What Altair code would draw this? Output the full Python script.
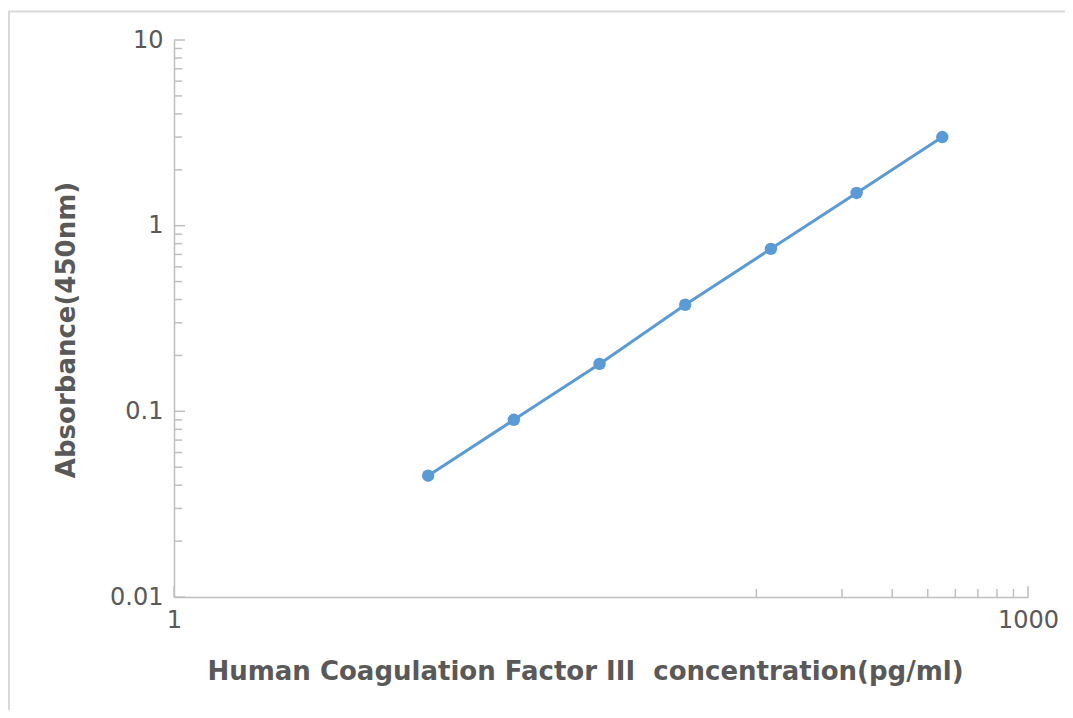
import altair as alt
import pandas as pd

# data
concentration = [7.8125, 15.625, 31.25, 62.5, 125, 250, 500]
absorbance = [0.045, 0.09, 0.18, 0.375, 0.75, 1.5, 3.0]

y_major = [0.01, 0.1, 1, 10]
y_minor = [m * d for d in [0.01, 0.1, 1] for m in range(2, 10)]
x_major = [1, 1000]
x_minor = [1000 * k / 9 for k in range(1, 9)]

W, H = 854, 557
BLUE = "#5b9bd5"
GRAY = "#bfbfbf"
TXT = "#595959"

df = pd.DataFrame({"x": concentration, "y": absorbance})

xs = alt.Scale(type="log", domain=[1, 1000], nice=False)
ys = alt.Scale(type="log", domain=[0.01, 10], nice=False)

x_axis = alt.Axis(
    values=x_major, format="~g", ticks=False, grid=False,
    domainColor=GRAY, domainWidth=1.5,
    labelFont="DejaVu Sans", labelFontSize=24, labelColor=TXT, labelPadding=11,
    labelBaseline="top", labelFlush=False,
    title="Human Coagulation Factor III\u00a0 concentration(pg/ml)",
    titleFont="DejaVu Sans", titleFontSize=26, titleFontWeight="bold", titleColor=TXT,
    titleX=411, titleY=82, titleAnchor="start", titleAlign="center", titleBaseline="alphabetic",
)
y_axis = alt.Axis(
    values=y_major, format="~g", ticks=False, grid=False,
    domainColor=GRAY, domainWidth=1.5,
    labelFont="DejaVu Sans", labelFontSize=24, labelColor=TXT, labelPadding=11,
    labelFlush=False,
    title="Absorbance(450nm)",
    titleFont="DejaVu Sans", titleFontSize=26, titleFontWeight="bold", titleColor=TXT,
    titleX=-108, titleY=289.5, titleAngle=-90, titleAlign="center", titleBaseline="middle",
)

frame = alt.Chart(pd.DataFrame({"a": [0]})).mark_rect(
    fill=None, stroke="#d9d9d9", strokeWidth=2
).encode(
    x=alt.value(-165), x2=alt.value(930), y=alt.value(-28.5), y2=alt.value(700)
)

line = alt.Chart(df).mark_line(color=BLUE, strokeWidth=3).encode(
    x=alt.X("x:Q", scale=xs, axis=x_axis),
    y=alt.Y("y:Q", scale=ys, axis=y_axis),
)
pts = alt.Chart(df).mark_circle(color=BLUE, size=155, opacity=1).encode(
    x=alt.X("x:Q", scale=xs),
    y=alt.Y("y:Q", scale=ys),
)

ymaj = alt.Chart(pd.DataFrame({"v": y_major})).mark_rule(color=GRAY, strokeWidth=1.5).encode(
    y=alt.Y("v:Q", scale=ys), x=alt.value(0), x2=alt.value(11)
)
ymin = alt.Chart(pd.DataFrame({"v": y_minor})).mark_rule(color=GRAY, strokeWidth=1.5).encode(
    y=alt.Y("v:Q", scale=ys), x=alt.value(0), x2=alt.value(8)
)
xmaj = alt.Chart(pd.DataFrame({"v": x_major})).mark_rule(color=GRAY, strokeWidth=1.5).encode(
    x=alt.X("v:Q", scale=xs), y=alt.value(H), y2=alt.value(H - 11)
)
xmin = alt.Chart(pd.DataFrame({"v": x_minor})).mark_rule(color=GRAY, strokeWidth=1.5).encode(
    x=alt.X("v:Q", scale=xs), y=alt.value(H), y2=alt.value(H - 8)
)

chart = alt.layer(frame, ymin, ymaj, xmin, xmaj, line, pts).properties(
    width=W, height=H,
    background="white",
    autosize=alt.AutoSizeParams(type="none"),
    padding={"left": 166, "top": 32, "right": 37, "bottom": 113},
).configure_view(strokeWidth=0)

chart.save("out.html", embed_options={"renderer": "svg", "actions": False})
